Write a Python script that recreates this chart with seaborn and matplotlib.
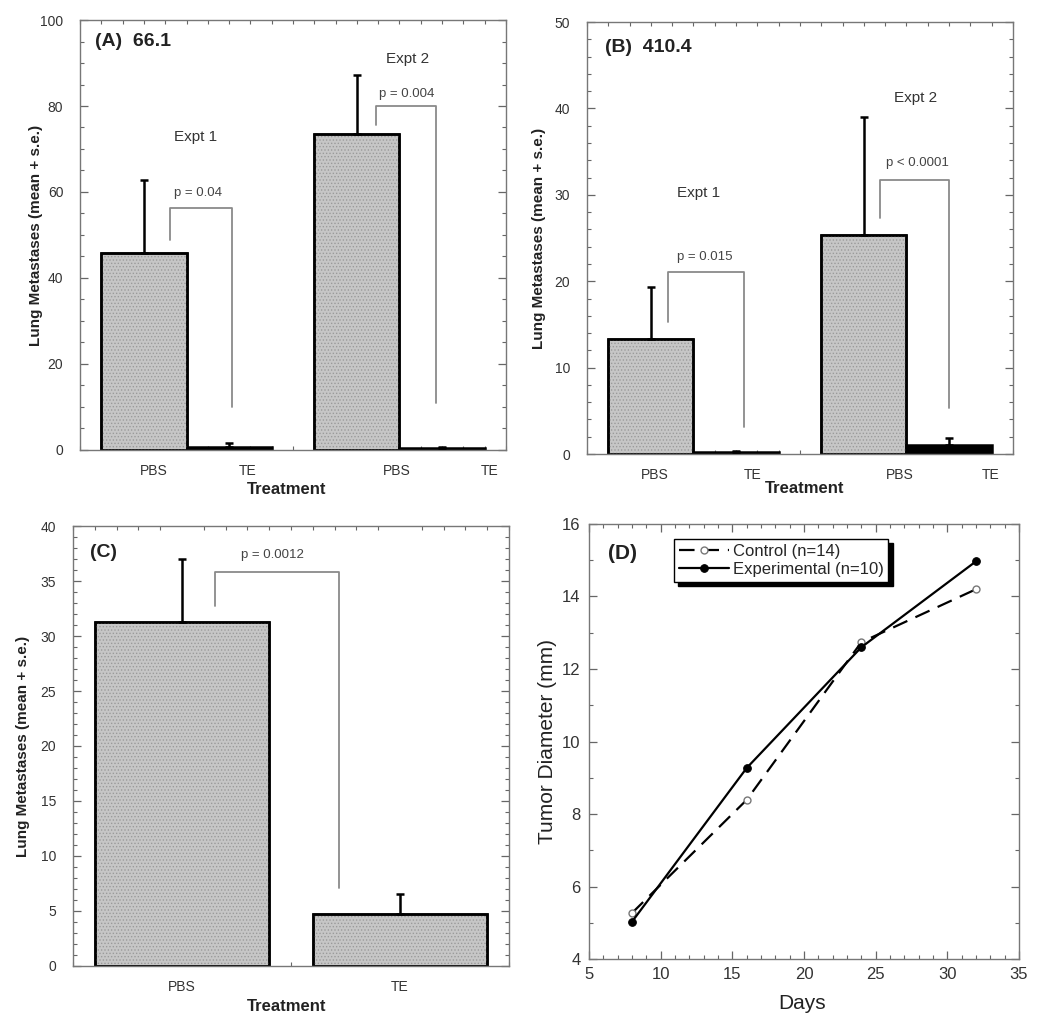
import numpy as np
import pandas as pd
import seaborn as sns
import matplotlib.pyplot as plt
from matplotlib.patches import Rectangle
from matplotlib.ticker import MultipleLocator

# -------------------------------------------------------------------
# values
# -------------------------------------------------------------------
groups_ab = ['PBS', 'TE', 'PBS', 'TE']
a_mean = [45.7, 0.7, 73.5, 0.5]
a_se = [17.0, 0.9, 13.7, 0.3]

b_mean = [13.3, 0.2, 25.4, 1.0]
b_se = [6.0, 0.2, 13.6, 0.8]

c_groups = ['PBS', 'TE']
c_mean = [31.3, 4.7]
c_se = [5.7, 1.8]

days = [8, 16, 24, 32]
control = [5.27, 8.39, 12.74, 14.2]
experimental = [5.03, 9.27, 12.6, 14.97]

# layout (positions of bars / labels / brackets, not data)
bar_x_ab = [0.75, 1.75, 3.25, 4.25]
tick_x_a = [0.86, 1.97, 3.72, 4.81]
tick_x_b = [0.79, 1.94, 3.67, 4.74]
bar_x_c = [0.5, 1.5]

GRAY = '#c6c6c6'
sns.set_style('ticks')
plt.rcParams['font.family'] = ['Liberation Sans', 'DejaVu Sans']
plt.rcParams['hatch.linewidth'] = 0.6


def bars(ax, xpos, means, se, colors, width):
    df = pd.DataFrame({'x': xpos, 'y': means, 'g': [str(i) for i in range(len(xpos))]})
    sns.barplot(data=df, x='x', y='y', hue='g', palette=colors, native_scale=True,
                width=width, dodge=False, legend=False, errorbar=None,
                edgecolor='black', linewidth=1.8, ax=ax)
    # fine dot texture on the grey bars
    for p in list(ax.patches):
        if p.get_facecolor()[0] > 0.5:
            ax.add_patch(Rectangle((p.get_x(), p.get_y()), p.get_width(), p.get_height(),
                                   fill=False, hatch='.....', edgecolor='#9a9a9a',
                                   linewidth=0, zorder=p.get_zorder() + 0.1))
            ax.add_patch(Rectangle((p.get_x(), p.get_y()), p.get_width(), p.get_height(),
                                   fill=False, edgecolor='black', linewidth=1.8,
                                   zorder=p.get_zorder() + 0.2))
    ax.errorbar(xpos, means, yerr=[np.zeros(len(se)), se], fmt='none', ecolor='black',
                elinewidth=1.8, capsize=3, capthick=1.8, zorder=4)


def bracket(ax, x0, y0, x1, y1, ytop, text, tx, ty):
    ax.plot([x0, x0, x1, x1], [y0, ytop, ytop, y1], color='#8a8a8a', lw=1.3, zorder=3)
    ax.text(tx, ty, text, ha='center', va='center', fontsize=9.5, color='#444')


def frame(ax):
    for s in ax.spines.values():
        s.set_color('#777')
        s.set_linewidth(1.0)
    ax.tick_params(which='both', direction='in', top=True, right=True,
                   color='#666', labelcolor='#333')
    ax.tick_params(which='major', length=6, width=0.9)
    ax.tick_params(which='minor', length=3, width=0.8)


fig = plt.figure(figsize=(10.5, 10.21), dpi=100)

# ---------------- (A) ----------------
axA = fig.add_axes([0.0762, 0.5593, 0.4057, 0.4211])
bars(axA, bar_x_ab, a_mean, a_se, [GRAY, 'black', GRAY, 'black'], 1.0)
axA.set_xlim(0, 5)
axA.set_ylim(0, 100)
frame(axA)
axA.set_xticks(tick_x_a, groups_ab)
axA.xaxis.set_minor_locator(MultipleLocator(0.25))
axA.yaxis.set_major_locator(MultipleLocator(20))
axA.yaxis.set_minor_locator(MultipleLocator(5))
axA.tick_params(axis='x', which='major', length=0, pad=10, labelsize=10)
axA.tick_params(axis='y', which='major', pad=12, labelsize=10)
bracket(axA, 1.06, 48.8, 1.78, 10.0, 56.3, 'p = 0.04', 1.385, 59.8)
bracket(axA, 3.47, 75.6, 4.18, 11.0, 80.0, 'p = 0.004', 3.84, 82.8)
axA.text(1.36, 72.8, 'Expt 1', ha='center', va='center', fontsize=11, color='#333')
axA.text(3.85, 90.9, 'Expt 2', ha='center', va='center', fontsize=11, color='#333')
axA.text(0.035, 0.949, '(A)  66.1', transform=axA.transAxes, ha='left', va='center',
         fontsize=14, fontweight='bold', color='#222')
axA.set_xlabel('Treatment', fontsize=12, fontweight='bold', color='#222')
axA.set_ylabel('Lung Metastases (mean + s.e.)', fontsize=11, fontweight='bold', color='#222')
axA.xaxis.set_label_coords(0.486, -0.074)
axA.yaxis.set_label_coords(-0.088, 0.5)

# ---------------- (B) ----------------
axB = fig.add_axes([0.559, 0.5553, 0.4057, 0.4231])
bars(axB, bar_x_ab, b_mean, b_se, [GRAY, 'black', GRAY, 'black'], 1.0)
axB.set_xlim(0, 5)
axB.set_ylim(0, 50)
frame(axB)
axB.set_xticks(tick_x_b, groups_ab)
axB.xaxis.set_minor_locator(MultipleLocator(0.25))
axB.yaxis.set_major_locator(MultipleLocator(10))
axB.yaxis.set_minor_locator(MultipleLocator(2))
axB.tick_params(axis='x', which='major', length=0, pad=10, labelsize=10)
axB.tick_params(axis='y', which='major', pad=12, labelsize=10)
bracket(axB, 0.95, 15.3, 1.84, 3.1, 21.1, 'p = 0.015', 1.385, 22.8)
bracket(axB, 3.44, 27.3, 4.25, 5.3, 31.7, 'p < 0.0001', 3.88, 33.7)
axB.text(1.31, 30.2, 'Expt 1', ha='center', va='center', fontsize=11, color='#333')
axB.text(3.86, 41.2, 'Expt 2', ha='center', va='center', fontsize=11, color='#333')
axB.text(0.042, 0.94, '(B)  410.4', transform=axB.transAxes, ha='left', va='center',
         fontsize=14, fontweight='bold', color='#222')
axB.set_xlabel('Treatment', fontsize=12, fontweight='bold', color='#222')
axB.set_ylabel('Lung Metastases (mean + s.e.)', fontsize=11, fontweight='bold', color='#222')
axB.xaxis.set_label_coords(0.51, -0.062)
axB.yaxis.set_label_coords(-0.096, 0.5)

# ---------------- (C) ----------------
axC = fig.add_axes([0.0695, 0.0539, 0.4152, 0.4309])
bars(axC, bar_x_c, c_mean, c_se, [GRAY, GRAY], 0.8)
axC.set_xlim(0, 2)
axC.set_ylim(0, 40)
frame(axC)
axC.set_xticks(bar_x_c, c_groups)
axC.xaxis.set_minor_locator(MultipleLocator(0.1))
axC.yaxis.set_major_locator(MultipleLocator(5))
axC.yaxis.set_minor_locator(MultipleLocator(1))
axC.tick_params(axis='x', which='major', length=0, pad=10, labelsize=10)
axC.tick_params(axis='y', which='major', pad=12, labelsize=10)
bracket(axC, 0.65, 32.7, 1.22, 7.1, 35.8, 'p = 0.0012', 0.917, 37.4)
axC.text(0.039, 0.94, '(C)', transform=axC.transAxes, ha='left', va='center',
         fontsize=14, fontweight='bold', color='#222')
axC.set_xlabel('Treatment', fontsize=12, fontweight='bold', color='#222')
axC.set_ylabel('Lung Metastases (mean + s.e.)', fontsize=11, fontweight='bold', color='#222')
axC.xaxis.set_label_coords(0.49, -0.075)
axC.yaxis.set_label_coords(-0.099, 0.5)

# ---------------- (D) ----------------
axD = fig.add_axes([0.561, 0.0607, 0.4095, 0.4261])
sns.lineplot(x=days, y=control, ax=axD, color='black', linestyle=(0, (7, 4)), lw=1.6,
             marker='o', markersize=5, markerfacecolor='white',
             markeredgecolor='#777', markeredgewidth=1, label='Control (n=14)')
sns.lineplot(x=days, y=experimental, ax=axD, color='black', lw=1.6,
             marker='o', markersize=5.5, markerfacecolor='black',
             markeredgecolor='black', label='Experimental (n=10)')
axD.set_xlim(5, 35)
axD.set_ylim(4, 16)
frame(axD)
axD.xaxis.set_major_locator(MultipleLocator(5))
axD.xaxis.set_minor_locator(MultipleLocator(1))
axD.yaxis.set_major_locator(MultipleLocator(2))
axD.yaxis.set_minor_locator(MultipleLocator(1))
axD.tick_params(axis='both', which='major', labelsize=12, pad=6)
axD.text(0.044, 0.933, '(D)', transform=axD.transAxes, ha='left', va='center',
         fontsize=15, fontweight='bold', color='#222')
axD.set_xlabel('Days', fontsize=15, color='#222')
axD.set_ylabel('Tumor Diameter (mm)', fontsize=15, color='#222')
axD.xaxis.set_label_coords(0.495, -0.08)
axD.yaxis.set_label_coords(-0.075, 0.5)
leg = axD.legend(loc='upper left', bbox_to_anchor=(0.198, 0.966), borderaxespad=0,
                 fontsize=12, frameon=True, fancybox=False, edgecolor='black',
                 shadow={'ox': 3, 'oy': -3, 'color': 'black', 'alpha': 1},
                 handlelength=3, handletextpad=0.2, labelspacing=0.2, borderpad=0.3)
leg.get_frame().set_linewidth(1.0)
leg.get_frame().set_alpha(1)

fig.savefig('out.png', dpi=100, facecolor='white')
